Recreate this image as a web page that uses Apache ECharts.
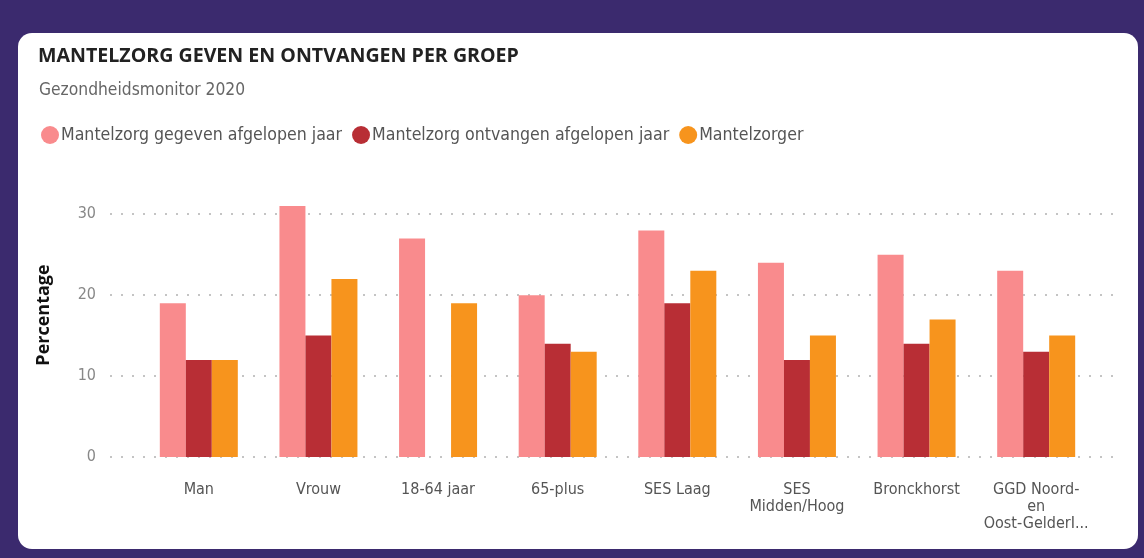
<!DOCTYPE html>
<html>
<head>
<meta charset="utf-8">
<script src="https://cdn.jsdelivr.net/npm/echarts@6/dist/echarts.min.js"></script>
<style>
  html, body { margin: 0; padding: 0; background: #3b2a6e; }
  #chart { width: 1144px; height: 558px; }
</style>
</head>
<body>
<div id="chart"></div>
<script>
var categories = ['Man', 'Vrouw', '18-64 jaar', '65-plus', 'SES Laag', 'SES\nMidden/Hoog', 'Bronckhorst', 'GGD Noord-\nen\nOost-GelderI...']
var gegeven = [19, 31, 27, 20, 28, 24, 25, 23]
var ontvangen = [12, 15, null, 14, 19, 12, 14, 13]
var mantelzorger = [12, 22, 19, 13, 23, 15, 17, 15]
var yTicks = [0, 10, 20, 30]

var font = "'Liberation Sans Narrow', 'DejaVu Sans Condensed', Roboto, sans-serif"
var myChart = echarts.init(document.getElementById('chart'))

myChart.setOption({
    backgroundColor: '#3b2a6e',
    graphic: [
        {
            type: 'rect',
            z: -10,
            shape: { x: 18, y: 33, width: 1120, height: 516, r: 14 },
            style: { fill: '#ffffff' }
        },
        {
            type: 'text',
            x: 44, y: 315,
            rotation: Math.PI / 2,
            style: {
                text: 'Percentage',
                fontFamily: "'Open Sans', sans-serif", fontWeight: 'bold', fontSize: 18,
                fill: '#111', align: 'center', verticalAlign: 'middle'
            }
        }
    ],
    title: [
        {
            text: 'MANTELZORG GEVEN EN ONTVANGEN PER GROEP',
            left: 33, top: 41,
            textStyle: { fontFamily: "'Open Sans', sans-serif", fontWeight: 'bold', fontSize: 19.6, color: '#222' }
        },
        {
            text: 'Gezondheidsmonitor 2020',
            left: 34, top: 77,
            textStyle: { fontFamily: font, fontWeight: 'normal', fontSize: 17.3, color: '#666' }
        }
    ],
    legend: {
        left: 36, top: 121,
        icon: 'circle',
        itemWidth: 18, itemHeight: 18,
        itemGap: 10,
        textStyle: { fontFamily: font, fontSize: 17.6, color: '#555', padding: [0, 0, 0, -3] },
        data: ['Mantelzorg gegeven afgelopen jaar', 'Mantelzorg ontvangen afgelopen jaar', 'Mantelzorger']
    },
    grid: [
        { left: 110, right: 26, top: 214, bottom: 101 },
        { left: 139, right: 48, top: 198, bottom: 101 }
    ],
    xAxis: [
        { gridIndex: 0, type: 'category', data: categories, show: false },
        {
            gridIndex: 1,
            type: 'category',
            data: categories,
            axisLine: { show: false },
            axisTick: { show: false },
            axisLabel: { fontFamily: font, fontSize: 16, color: '#555', margin: 24, lineHeight: 17, interval: 0 }
        }
    ],
    yAxis: [
        {
            gridIndex: 0,
            type: 'value',
            min: yTicks[0], max: yTicks[yTicks.length - 1], interval: 10,
            axisLine: { show: false },
            axisTick: { show: false },
            axisLabel: { fontFamily: font, fontSize: 16, color: '#888', margin: 14 },
            splitLine: { lineStyle: { type: [2, 9], color: '#c4c4c4', width: 2 } }
        },
        {
            gridIndex: 1,
            type: 'value',
            min: 0, max: 32,
            show: false
        }
    ],
    series: [
        {
            name: 'Mantelzorg gegeven afgelopen jaar',
            type: 'bar',
            xAxisIndex: 1, yAxisIndex: 1,
            barWidth: 26, barGap: '0%',
            itemStyle: { color: '#f98b8d' },
            data: gegeven
        },
        {
            name: 'Mantelzorg ontvangen afgelopen jaar',
            type: 'bar',
            xAxisIndex: 1, yAxisIndex: 1,
            barWidth: 26, barGap: '0%',
            itemStyle: { color: '#b82e35' },
            data: ontvangen
        },
        {
            name: 'Mantelzorger',
            type: 'bar',
            xAxisIndex: 1, yAxisIndex: 1,
            barWidth: 26, barGap: '0%',
            itemStyle: { color: '#f7941d' },
            data: mantelzorger
        }
    ]
})
</script>
</body>
</html>
